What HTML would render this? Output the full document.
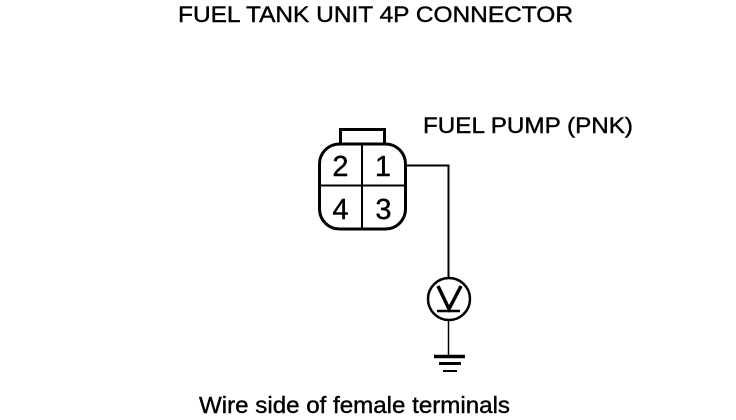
<!DOCTYPE html>
<html>
<head>
<meta charset="utf-8">
<style>
html,body{margin:0;padding:0;background:#fff;width:736px;height:420px;overflow:hidden}
svg{display:block}
text{font-family:"Liberation Sans",sans-serif;fill:#000;stroke:#000;stroke-width:.4}
</style>
</head>
<body>
<svg width="736" height="420" viewBox="0 0 736 420" xmlns="http://www.w3.org/2000/svg">
<text x="178" y="22" font-size="22" textLength="395" lengthAdjust="spacingAndGlyphs">FUEL TANK UNIT 4P CONNECTOR</text>
<text x="423" y="133" font-size="22" textLength="210" lengthAdjust="spacingAndGlyphs">FUEL PUMP (PNK)</text>
<text x="199" y="413" font-size="23" textLength="311" lengthAdjust="spacingAndGlyphs">Wire side of female terminals</text>

<g fill="none" stroke="#000">
<path d="M340.500 143V129.500H384.500V143" stroke-width="3"/>
<rect x="319.500" y="144" width="86" height="85" rx="20" ry="20" stroke-width="3"/>
<path d="M362 144V229M320 185.500H405" stroke-width="2"/>
<path d="M405 165.500H448.500V278" stroke-width="2"/>
<circle cx="449" cy="299" r="21" stroke-width="2.500"/>
<path d="M438 286L449 309L461 286" stroke-width="3.500"/>
<path d="M437 311H460" stroke-width="2.500"/>
<path d="M448.500 320V356" stroke-width="1.500"/>
<path d="M434 356.500H465" stroke-width="3.500"/>
<path d="M439 363.500H461" stroke-width="3"/>
<path d="M443 371H457" stroke-width="2"/>
</g>
<text x="340.500" y="176" font-size="29" text-anchor="middle">2</text>
<text x="383" y="176" font-size="29" text-anchor="middle">1</text>
<text x="340.500" y="219" font-size="29" text-anchor="middle">4</text>
<text x="383.500" y="219" font-size="29" text-anchor="middle">3</text>
</svg>
</body>
</html>
